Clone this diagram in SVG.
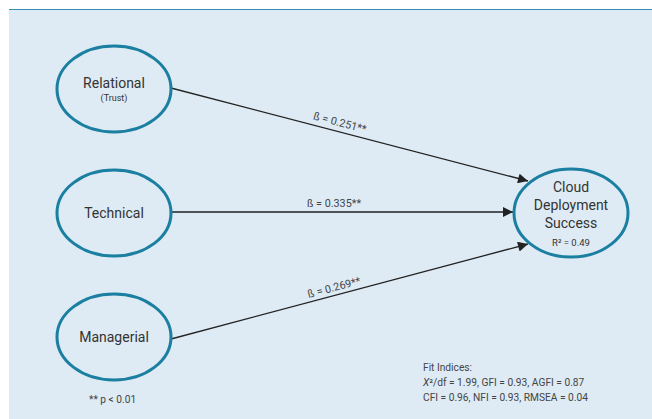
<svg xmlns="http://www.w3.org/2000/svg" width="652" height="419" viewBox="0 0 652 419">
  <defs>
    <marker id="arrow" viewBox="0 0 10 10" refX="10" refY="5" markerWidth="16" markerHeight="10" markerUnits="userSpaceOnUse" orient="auto">
      <path d="M0,0 L10,5 L0,10 z" fill="#222"/>
    </marker>
    <style>
      .node { fill: none; stroke: #1a7fa1; stroke-width: 3; }
      .label { font-family: Roboto, "Liberation Sans", sans-serif; fill: #333; text-anchor: middle; }
      .edge { stroke: #222; stroke-width: 1.3; fill: none; marker-end: url(#arrow); }
      .coef { font-family: Roboto, "Liberation Sans", sans-serif; fill: #444; font-size: 10.8px; text-anchor: middle; }
      .note { font-family: Roboto, "Liberation Sans", sans-serif; fill: #444; font-size: 10.2px; }
    </style>
  </defs>

  <!-- panel -->
  <rect x="9" y="9" width="643" height="410" fill="#deebf4"/>
  <line x1="9" y1="9.5" x2="652" y2="9.5" stroke="#3a8fb5" stroke-width="1.2"/>

  <!-- paths -->
  <g id="connectors">
    <line class="edge" x1="171" y1="88" x2="528" y2="181"/>
    <line class="edge" x1="171" y1="212" x2="513" y2="212"/>
    <line class="edge" x1="171" y1="339" x2="528" y2="244"/>
    <text class="coef" transform="translate(339,126) rotate(14.6)">ß = 0.251**</text>
    <text class="coef" x="334" y="207">ß = 0.335**</text>
    <text class="coef" transform="translate(335,291) rotate(-14.9)">ß = 0.269**</text>
  </g>

  <g id="relational">
    <ellipse class="node" cx="114" cy="89" rx="57" ry="43"/>
    <text class="label" x="114" y="88" font-size="14">Relational</text>
    <text class="label" x="114" y="101" font-size="9">(Trust)</text>
  </g>

  <g id="technical">
    <ellipse class="node" cx="114" cy="213" rx="57" ry="43"/>
    <text class="label" x="114" y="218" font-size="14">Technical</text>
  </g>

  <g id="managerial">
    <ellipse class="node" cx="114" cy="337" rx="57" ry="43"/>
    <text class="label" x="114" y="342" font-size="14">Managerial</text>
  </g>

  <g id="cloud">
    <ellipse class="node" cx="571" cy="213" rx="57" ry="44"/>
    <text class="label" x="571" y="192" font-size="14">Cloud</text>
    <text class="label" x="571" y="210" font-size="14">Deployment</text>
    <text class="label" x="571" y="228" font-size="14">Success</text>
    <text class="label" x="571" y="246" font-size="9.5">R² = 0.49</text>
  </g>

  <g id="notes">
    <text class="note" x="89" y="403" font-size="9.6">** p &lt; 0.01</text>
    <text class="note" x="423" y="371">Fit Indices:</text>
    <text class="note" x="423" y="386"><tspan font-style="italic">X</tspan>²/df = 1.99, GFI = 0.93, AGFI = 0.87</text>
    <text class="note" x="423" y="401">CFI = 0.96, NFI = 0.93, RMSEA = 0.04</text>
  </g>
</svg>
